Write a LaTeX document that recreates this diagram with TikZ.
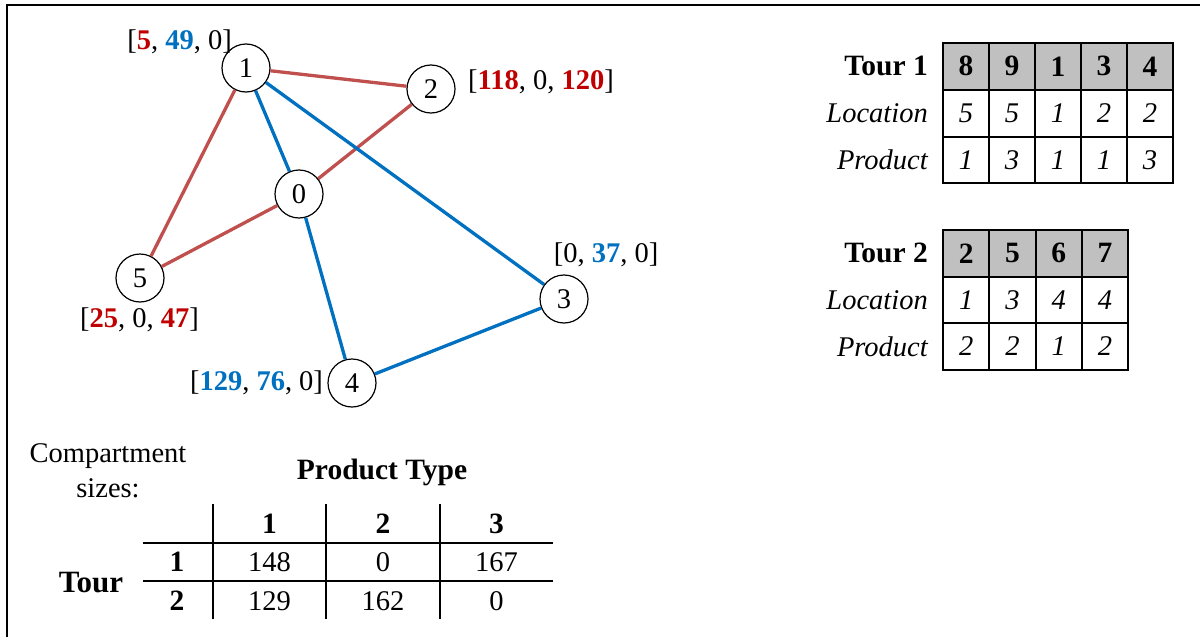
\documentclass[tikz,border=0pt]{standalone}
\usepackage{fontspec}
\setmainfont{Liberation Serif}
\definecolor{redline}{HTML}{C0504D}
\definecolor{blueline}{HTML}{0070C0}
\definecolor{redtext}{HTML}{C00000}
\definecolor{hdrgray}{HTML}{C0C0C0}
\newcommand{\redq}[1]{\textcolor{redtext}{\textbf{#1}}}
\newcommand{\blueq}[1]{\textcolor{blueline}{\textbf{#1}}}
\begin{document}
\begin{tikzpicture}[x=1pt,y=-1pt,
  every node/.style={font=\fontsize{28.5}{32}\selectfont, inner sep=0pt},
  loc/.style={circle, draw, line width=1.2pt, fill=white, minimum size=48pt},
  rededge/.style={draw=redline, line width=3.3pt},
  blueedge/.style={draw=blueline, line width=3.3pt},
  gridline/.style={line width=2pt},
  hd/.style={font=\fontsize{29.5}{32}\selectfont\bfseries},
  it/.style={font=\fontsize{28.5}{32}\selectfont\itshape},
]
\useasboundingbox (0,0) rectangle (1200,637);
% outer frame (top and left edges)
\draw[line width=2.5pt] (7,640) -- (7,5) -- (1205,5);

% ---- network ----
\node[loc] (n1) at (246,68) {1};
\node[loc] (n2) at (431,89) {2};
\node[loc] (n0) at (299,194) {0};
\node[loc] (n5) at (140,278) {5};
\node[loc] (n3) at (564,299) {3};
\node[loc] (n4) at (352,383) {4};

\draw[rededge] (n1) -- (n2);
\draw[rededge] (n1) -- (n5);
\draw[rededge] (n5) -- (n0);
\draw[rededge] (n0) -- (n2);
\draw[blueedge] (n1) -- (n0);
\draw[blueedge] (n1) -- (n3);
\draw[blueedge] (n0) -- (n4);
\draw[blueedge] (n4) -- (n3);

\node (l1) at (179.5,42) {[\redq{5}, \blueq{49}, 0]};
\node (l2) at (541,82) {[\redq{118}, 0, \redq{120}]};
\node (l3) at (606,255) {[0, \blueq{37}, 0]};
\node (l5) at (139.5,320) {[\redq{25}, 0, \redq{47}]};
\node (l4) at (256.5,383) {[\blueq{129}, \blueq{76}, 0]};

% ---- Tour 1 sequence ----
\fill[hdrgray] (943,42.7) rectangle (1173,90);
\draw[gridline] (943,42.7) rectangle (1173,183.3);
\draw[gridline] (943,90) -- (1173,90) (943,136.7) -- (1173,136.7);
\foreach \i in {1,...,4} \draw[gridline] (943+46*\i,42.7) -- ++(0,140.6);
\node[hd, anchor=east] (t1) at (928,66.3) {Tour 1};
\node[it, anchor=east] (t1loc) at (928,113.3) {Location};
\node[it, anchor=east] (t1prod) at (928,160) {Product};
\foreach \v [count=\i] in {8,9,1,3,4}
  \node[hd] (t1h\i) at (920+46*\i,66.3) {\v};
\foreach \v [count=\i] in {5,5,1,2,2}
  \node[it] (t1l\i) at (920+46*\i,113.3) {\v};
\foreach \v [count=\i] in {1,3,1,1,3}
  \node[it] (t1p\i) at (920+46*\i,160) {\v};

% ---- Tour 2 sequence ----
\fill[hdrgray] (943,230) rectangle (1128,276.5);
\draw[gridline] (943,230) rectangle (1128,369.5);
\draw[gridline] (943,276.5) -- (1128,276.5) (943,323) -- (1128,323);
\foreach \i in {1,...,3} \draw[gridline] (943+46.25*\i,230) -- ++(0,139.5);
\node[hd, anchor=east] (t2) at (928,253.3) {Tour 2};
\node[it, anchor=east] (t2loc) at (928,299.8) {Location};
\node[it, anchor=east] (t2prod) at (928,346.3) {Product};
\foreach \v [count=\i] in {2,5,6,7}
  \node[hd] (t2h\i) at (919.875+46.25*\i,253.3) {\v};
\foreach \v [count=\i] in {1,3,4,4}
  \node[it] (t2l\i) at (919.875+46.25*\i,299.8) {\v};
\foreach \v [count=\i] in {2,2,1,2}
  \node[it] (t2p\i) at (919.875+46.25*\i,346.3) {\v};

% ---- compartment sizes ----
\node[align=center, font=\fontsize{28.5}{35}\selectfont] (cs) at (108,471) {Compartment\\sizes:};
\node[hd] (pt) at (382,472) {Product Type};
\draw[gridline] (213,504) -- (213,619) (326,504) -- (326,619) (440,504) -- (440,619);
\draw[gridline] (143,542.5) -- (553,542.5) (143,581) -- (553,581);
\node[hd] (c1) at (269.5,524) {1};
\node[hd] (c2) at (383,524) {2};
\node[hd] (c3) at (496.5,524) {3};
\node[hd] (r1) at (177,562) {1};
\node[hd] (r2) at (177,601) {2};
\node[hd, font=\fontsize{31}{32}\selectfont\bfseries] (tr) at (91,583) {Tour};
\node (v11) at (269.5,562) {148};
\node (v12) at (383,562) {0};
\node (v13) at (496.5,562) {167};
\node (v21) at (269.5,601) {129};
\node (v22) at (383,601) {162};
\node (v23) at (496.5,601) {0};
\end{tikzpicture}
\end{document}
